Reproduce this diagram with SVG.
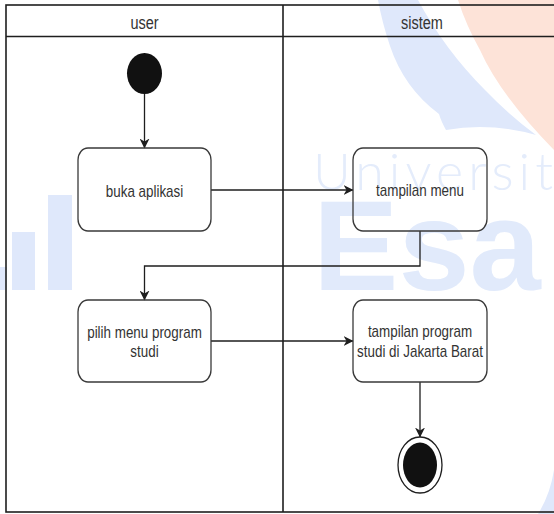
<svg xmlns="http://www.w3.org/2000/svg" width="554" height="514" viewBox="0 0 554 514">
<defs>
<style>
.wm-b{fill:#dfe8fb;}
.wm-o{fill:#fde3d8;}
.lane{fill:none;stroke:#1e1e1e;stroke-width:1.6;}
.box{fill:none;stroke:#3a3a3a;stroke-width:1.3;}
.lbl{font-family:"Liberation Sans",Arial,sans-serif;font-size:13.4px;fill:#333;text-anchor:middle;}
.hdr{font-family:"Liberation Sans",Arial,sans-serif;font-size:14.5px;fill:#333;text-anchor:middle;}
.edge{fill:none;stroke:#1e1e1e;stroke-width:1.3;marker-end:url(#arr);}
</style>
<marker id="arr" viewBox="0 0 10 10" refX="9.5" refY="5" markerWidth="10" markerHeight="10" markerUnits="userSpaceOnUse" orient="auto">
<path d="M0,0 L10,5 L0,10 L3,5 Z" fill="#1e1e1e"/>
</marker>
</defs>
<rect width="554" height="514" fill="#ffffff"/>
<g id="watermark">
<path class="wm-o" d="M458,0 L554,0 L554,150 Q500,95 480,50 Q466,25 458,0 Z"/>
<path class="wm-b" d="M378,0 L418,0 Q445,50 485,90 Q508,114 536,135 Q490,122 446,130 Q441,121 439,114 Q404,88 390,46 Q382,22 378,0 Z"/>
<path class="wm-b" d="M554,470 Q550,495 538,514 L554,514 Z"/>
<rect class="wm-b" x="12" y="232" width="23" height="58"/>
<rect class="wm-b" x="0" y="267" width="7" height="23"/>
<rect class="wm-b" x="48" y="195" width="24" height="95"/>
<text x="313" y="190" textLength="240" style="font-family:Lato,'Open Sans',sans-serif;font-weight:300;font-size:52px;fill:#e4ecfb;">Universit</text>
<text x="313" y="290" style="font-family:'Liberation Sans',Arial,sans-serif;font-weight:bold;font-size:128px;fill:#e1eafb;">Esa<tspan x="548">U</tspan></text>
</g>
<g id="swimlanes">
<rect class="lane" x="6" y="5" width="556" height="507"/>
<line class="lane" x1="6" y1="36.5" x2="562" y2="36.5"/>
<line class="lane" x1="283" y1="5" x2="283" y2="512"/>
<text class="hdr" transform="translate(144.5,29) scale(1,1.25)">user</text>
<text class="hdr" transform="translate(422,29) scale(1,1.25)">sistem</text>
</g>
<g id="connectors">
<path class="edge" d="M144.5,94 L144.5,148"/>
<path class="edge" d="M211,190 L353,190"/>
<path class="edge" d="M420,231 L420,266 L144.5,266 L144.5,300"/>
<path class="edge" d="M211,341 L353,341"/>
<path class="edge" d="M420,382 L420,437"/>
</g>
<g id="start">
<ellipse cx="144.5" cy="73.5" rx="17.5" ry="20.5" fill="#111"/>
</g>
<g id="buka-aplikasi">
<rect class="box" x="78" y="148" width="133" height="83" rx="10" ry="12"/>
<text class="lbl" transform="translate(144.5,197) scale(1,1.3)">buka aplikasi</text>
</g>
<g id="tampilan-menu">
<rect class="box" x="353" y="148" width="134" height="83" rx="10" ry="12"/>
<text class="lbl" transform="translate(420,196) scale(1,1.3)">tampilan menu</text>
</g>
<g id="pilih-menu">
<rect class="box" x="78" y="300" width="133" height="82" rx="10" ry="12"/>
<text class="lbl" transform="translate(144.5,338) scale(1,1.3)">pilih menu program</text>
<text class="lbl" transform="translate(144.5,357) scale(1,1.3)">studi</text>
</g>
<g id="tampilan-program">
<rect class="box" x="353" y="300" width="134" height="82" rx="10" ry="12"/>
<text class="lbl" transform="translate(420,337) scale(1,1.3)">tampilan program</text>
<text class="lbl" transform="translate(420,357) scale(1,1.3)">studi di Jakarta Barat</text>
</g>
<g id="end">
<ellipse cx="420" cy="465" rx="22" ry="28" fill="#fff" stroke="#1e1e1e" stroke-width="1.3"/>
<ellipse cx="420" cy="465" rx="17" ry="22.5" fill="#111"/>
</g>
</svg>
